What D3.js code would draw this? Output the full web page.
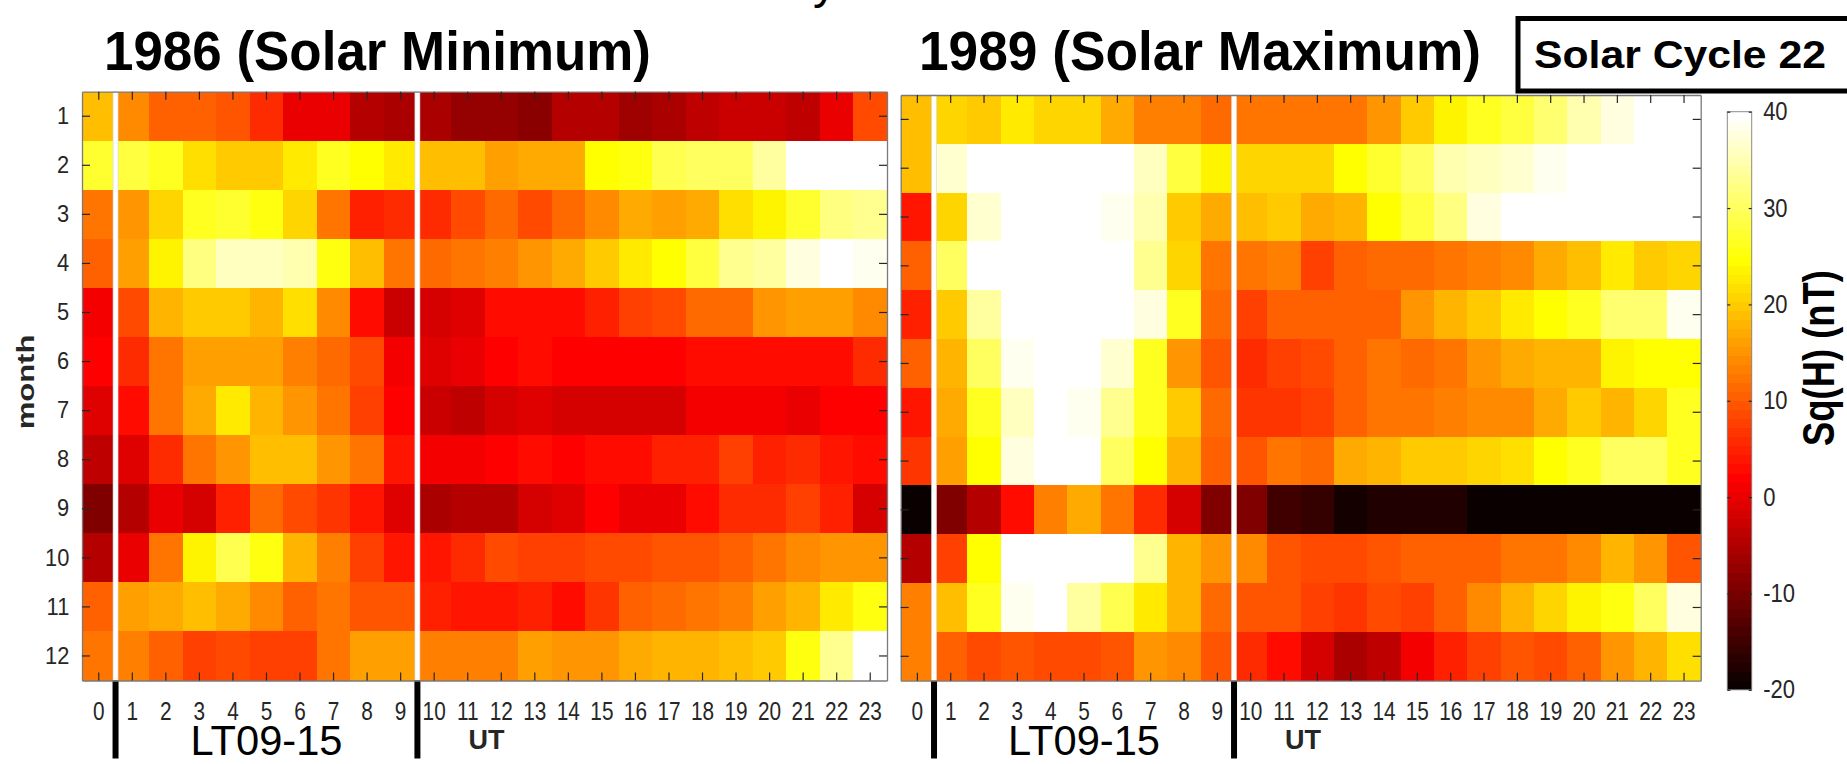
<!DOCTYPE html>
<html>
<head>
<meta charset="utf-8">
<script src="https://cdn.jsdelivr.net/npm/d3@7"></script>
<style>
  body { margin: 0; background: #fff; }
  svg { display: block; font-family: "Liberation Sans", Arial, sans-serif; }
</style>
</head>
<body>
<div id="chart"></div>
<script>
// hours (x categories) and months (y categories)
const hours = ['0', '1', '2', '3', '4', '5', '6', '7', '8', '9', '10', '11',
  '12', '13', '14', '15', '16', '17', '18', '19', '20', '21', '22', '23'];
const months = ['1', '2', '3', '4', '5', '6', '7', '8', '9', '10', '11', '12'];

// Sq(H) in nT, one row per month, one value per hour
const sq1986 = [
  [19, 15, 11, 11, 10, 6, 0.4, 0.4, -3.8, -4.8, -4.8, -6.5, -6.5, -8, -4.5, -4.5, -5.9, -5.2, -3, -2, -2, -3, 0.4, 8.8],
  [27.8, 28.8, 27.3, 22, 20, 20.5, 23, 27, 25, 23, 19.8, 19.8, 16.6, 17.3, 17.3, 25, 25.6, 29.7, 31, 30.6, 34.4, 40, 40, 40],
  [12.4, 15.9, 21.5, 27.3, 27.8, 25.6, 21.5, 12.4, 5.3, 6, 6.7, 9, 11.7, 9.5, 11.7, 14.5, 17.3, 16.3, 17.3, 22.3, 23.7, 27.8, 32.5, 33.3],
  [10.9, 17, 23.7, 32.5, 35.8, 36.3, 34.9, 25.6, 19.4, 13, 11.7, 12.4, 13.8, 15.9, 17.3, 20, 23, 25, 28.3, 33, 34.4, 37.7, 40, 39.1],
  [1.2, 9.5, 18.7, 20, 20, 18.7, 22.3, 14.5, 3.9, -2.4, -1.6, 0, 3.2, 3.2, 3.2, 5.3, 7.8, 9.5, 11.7, 11.7, 15.9, 16.6, 16.6, 14.5],
  [2.5, 6.4, 13, 16.3, 16.3, 16.3, 13.8, 11.7, 8.8, 1.6, -0.5, 0.4, 2.5, 3.2, 2.5, 2.5, 2.8, 2.5, 3.9, 3.2, 3.2, 3.2, 3.9, 6],
  [-0.5, 3.4, 12.4, 17.3, 22.7, 18, 15.5, 12.4, 8.5, 2.5, -2, -3, -1.4, -0.5, -1.1, -1.1, -1.1, -0.8, 1.2, 1.2, 1.2, 0.7, 2.5, 2.5],
  [-3, -0.5, 6.7, 12.4, 15.9, 19.1, 19.1, 15.9, 12.4, 4.6, 1.2, 1.2, 2.5, 3.2, 2.5, 3.5, 3.5, 5.3, 5.7, 8.1, 5.3, 6, 4.3, 3.5],
  [-9.2, -4.1, 0.7, -1.3, 5, 11.9, 8.8, 7.1, 4.3, -0.5, -4.8, -4.5, -4.1, -1.6, 0.1, 2.5, 0.4, 0.4, 3.5, 6.7, 6, 8.1, 5.3, -0.8],
  [-3.6, 0.9, 12.9, 23.7, 29.7, 25.6, 18.7, 13.4, 8.1, 4.6, 4.3, 6.5, 8.8, 7.8, 7.8, 9.2, 9.2, 9.9, 9.9, 10.9, 13, 14.9, 15.2, 15.9],
  [10.5, 16.3, 17.3, 19.1, 17.7, 14.9, 11.3, 12.4, 9.9, 9.9, 5, 4.3, 4.3, 5.7, 3.9, 7.1, 11.3, 11.9, 12.9, 13.8, 16.3, 18.4, 23, 26.4],
  [13, 13.8, 11.3, 8.1, 8.8, 8.1, 8.1, 13, 16.3, 16.3, 13.4, 13.4, 13.8, 16.3, 15.5, 15.2, 17.3, 18, 18.7, 19.8, 20, 25.6, 33.9, 40]
];

const sq1989 = [
  [19, 21.5, 20, 23, 21.2, 21.2, 17.3, 13.4, 13.4, 11.9, 13, 13, 12.9, 12.9, 15.9, 20, 23.7, 26.9, 28.3, 32, 35.3, 37.7, 42, 42],
  [19, 36.8, 42, 42, 42, 42, 42, 36.3, 28.8, 23.7, 21.2, 21.2, 21.5, 25, 27.8, 30.6, 35.3, 36.3, 37.2, 39.1, 42, 42, 42, 42],
  [4.6, 21.5, 36.8, 42, 42, 42, 39.1, 34.9, 20, 17.3, 19.1, 20.5, 17.3, 18, 25, 28.8, 32.5, 37.7, 42, 42, 42, 42, 42, 42],
  [11.3, 31, 42, 42, 42, 42, 42, 33.9, 21.5, 12.9, 12.9, 13.4, 8.1, 11.3, 11.7, 11.7, 12.4, 13.4, 14.9, 17.3, 19.1, 23, 20, 21.5],
  [5, 20, 34.4, 42, 42, 42, 42, 37.7, 26.9, 11.9, 8.5, 10.9, 10.5, 10.5, 10.9, 15.2, 18.7, 20.5, 23, 25, 26.9, 31.6, 31.6, 38.6],
  [10.5, 18.4, 31, 39.1, 42, 42, 37.2, 26.9, 15.9, 10.2, 6.4, 8.1, 9.2, 10.5, 12.9, 11.7, 13, 15.2, 17.3, 18.7, 18.7, 23.7, 25, 25],
  [4.3, 17.7, 26.9, 35.8, 42, 39.1, 33.9, 26.9, 20, 11.9, 7.4, 7.4, 8.1, 10.9, 12.9, 13, 14.2, 14.9, 14.9, 17.3, 20, 18.7, 20.9, 26.9],
  [7.4, 17, 25, 38.1, 42, 42, 31, 25, 18.4, 11.3, 10.2, 12.9, 11.9, 17.3, 18, 20, 20, 20.9, 21.9, 25, 26.9, 30.2, 30.2, 27.3],
  [-19.4, -9.2, -3.6, 3.5, 13.4, 17.3, 13, 6, -1.6, -9.2, -9.2, -14, -15.5, -17.9, -17.2, -17.2, -17.5, -18.6, -19.1, -19.1, -19.1, -19.1, -19.1, -19.1],
  [-3.6, 8.5, 25, 42, 42, 42, 42, 33, 18.4, 15.5, 14.9, 10.2, 9.5, 9.5, 9.9, 10.9, 10.9, 10.9, 12.9, 12.9, 14.9, 18, 15.2, 9.9],
  [13.4, 19.1, 26.9, 39.1, 42, 34.4, 29.7, 23, 18.4, 11.9, 10.2, 10.2, 8.5, 7.4, 8.8, 8.1, 10.9, 14.9, 18.4, 21.5, 23.7, 26.4, 31, 38.1],
  [13.4, 10.5, 9.2, 9.9, 8.8, 8.8, 9.9, 15.9, 14.9, 9.9, 6.4, 3.5, -1, -5.2, -3.4, 1.2, 5.3, 8.1, 10.2, 9.2, 11.3, 15.2, 18.7, 22.3]
];

const cRange = [-20, 40];
const cbTicks = [-20, -10, 0, 10, 20, 30, 40];

const width = 1847, height = 764;
const axisCol = '#262626';

const svg = d3.select('#chart')
  .append('svg')
  .attr('width', width)
  .attr('height', height);

// matlab hot(64)
const hotIndex = i => {
  const n = i + 1;
  const r = Math.min(n / 24, 1),
    g = Math.max(0, Math.min((n - 24) / 24, 1)),
    b = Math.max(0, Math.min((n - 48) / 16, 1));
  return d3.rgb(r * 255, g * 255, b * 255).formatHex();
};
const hot = v => {
  const i = Math.round((v - cRange[0]) / (cRange[1] - cRange[0]) * 64) - 1;
  return hotIndex(Math.max(0, Math.min(63, i)));
};

const styleAxis = (g, size) => {
  g.attr('font-family', '"Liberation Sans", Arial, sans-serif')
    .attr('font-size', size);
  g.select('.domain').attr('stroke', '#7a7a7a').attr('stroke-width', 1.3);
  g.selectAll('.tick line').attr('stroke', axisCol).attr('stroke-width', 1.2);
  g.selectAll('.tick text').attr('fill', axisCol);
};

const panels = [
  { title: '1986 (Solar Minimum)', values: sq1986, x0: 82, x1: 887, y0: 91.7, y1: 680.5, titleX: 104, titleW: 547 },
  { title: '1989 (Solar Maximum)', values: sq1989, x0: 900.7, x1: 1700.7, y0: 95, y1: 680.7, titleX: 919, titleW: 562 }
];

panels.forEach((p, pi) => {
  const x = d3.scaleBand().domain(hours).range([p.x0, p.x1]);
  const y = d3.scaleBand().domain(months).range([p.y0, p.y1]);

  const cells = [];
  p.values.forEach((row, mi) => row.forEach((v, hi) => cells.push({ m: months[mi], h: hours[hi], v })));

  svg.append('g')
    .attr('shape-rendering', 'crispEdges')
    .selectAll('rect')
    .data(cells)
    .enter().append('rect')
    .attr('x', d => x(d.h))
    .attr('y', d => y(d.m))
    .attr('width', x.bandwidth() + 0.6)
    .attr('height', y.bandwidth() + 0.6)
    .attr('fill', d => hot(d.v));

  // LT09-15 window markers
  const b1 = x(hours[1]), b2 = x(hours[10]);
  [b1, b2].forEach(bx => {
    svg.append('rect')
      .attr('x', bx - 2.5).attr('y', p.y0)
      .attr('width', 5).attr('height', p.y1 - p.y0)
      .attr('fill', '#fff').attr('stroke', '#d4d4d4').attr('stroke-width', 0.6);
    svg.append('line')
      .attr('x1', bx).attr('x2', bx)
      .attr('y1', p.y1).attr('y2', 758.5)
      .attr('stroke', '#000').attr('stroke-width', 6);
  });

  // axes with inward ticks
  svg.append('g')
    .attr('transform', `translate(0,${p.y0})`)
    .call(d3.axisTop(x).tickSizeInner(-8).tickSizeOuter(0).tickFormat(''))
    .call(g => styleAxis(g, 22));
  svg.append('g')
    .attr('transform', `translate(${p.x1},0)`)
    .call(d3.axisRight(y).tickSizeInner(-8).tickSizeOuter(0).tickFormat(''))
    .call(g => styleAxis(g, 22));
  svg.append('g')
    .attr('transform', `translate(0,${p.y1})`)
    .call(d3.axisBottom(x).tickSizeInner(-8).tickSizeOuter(0).tickPadding(21))
    .call(g => styleAxis(g, 26))
    .call(g => g.selectAll('.tick text').attr('transform', 'scale(0.8,1)'));
  const yAxis = d3.axisLeft(y).tickSizeInner(-8).tickSizeOuter(0).tickPadding(14);
  if (pi > 0) yAxis.tickFormat('');
  svg.append('g')
    .attr('transform', `translate(${p.x0},0)`)
    .call(yAxis)
    .call(g => styleAxis(g, 24))
    .call(g => g.selectAll('.tick text').attr('transform', 'scale(0.91,1)'));

  svg.append('text')
    .attr('x', p.titleX).attr('y', 70)
    .attr('font-size', 55).attr('font-weight', 'bold')
    .attr('textLength', p.titleW).attr('lengthAdjust', 'spacingAndGlyphs')
    .text(p.title);

  svg.append('text')
    .attr('x', (b1 + b2) / 2).attr('y', 755)
    .attr('text-anchor', 'middle')
    .attr('font-size', 43)
    .attr('textLength', 152).attr('lengthAdjust', 'spacingAndGlyphs')
    .text('LT09-15');

  svg.append('text')
    .attr('x', b2 + 51).attr('y', 749)
    .attr('font-size', 27).attr('font-weight', 'bold')
    .attr('fill', axisCol)
    .text('UT');
});

// y label
svg.append('text')
  .attr('transform', 'translate(34,382) scale(0.78,1) rotate(-90)')
  .attr('text-anchor', 'middle')
  .attr('font-size', 31).attr('font-weight', 'bold')
  .attr('fill', axisCol)
  .text('month');

// colour bar
const cbX0 = 1727.3, cbX1 = 1751.7;
const cb = d3.scaleLinear().domain(cRange).range([689.8, 111.7]);
const bandStep = (cRange[1] - cRange[0]) / 64;
svg.append('g')
  .attr('shape-rendering', 'crispEdges')
  .selectAll('rect')
  .data(d3.range(64))
  .enter().append('rect')
  .attr('x', cbX0)
  .attr('y', k => cb(cRange[0] + (k + 1) * bandStep))
  .attr('width', cbX1 - cbX0)
  .attr('height', k => cb(cRange[0] + k * bandStep) - cb(cRange[0] + (k + 1) * bandStep) + 0.5)
  .attr('fill', k => hotIndex(k));
svg.append('rect')
  .attr('x', cbX0).attr('y', cb(cRange[1]))
  .attr('width', cbX1 - cbX0).attr('height', cb(cRange[0]) - cb(cRange[1]))
  .attr('fill', 'none').attr('stroke', '#8a8a8a').attr('stroke-width', 1);
svg.append('g')
  .attr('transform', `translate(${cbX1},0)`)
  .call(d3.axisRight(cb).tickValues(cbTicks).tickSizeInner(-3).tickSizeOuter(0).tickPadding(13)
    .tickFormat(d => String(d)))
  .call(g => styleAxis(g, 25))
  .call(g => g.select('.domain').remove())
  .call(g => g.selectAll('.tick text').attr('transform', 'scale(0.88,1)'));
svg.append('g')
  .attr('transform', `translate(${cbX0},0)`)
  .call(d3.axisLeft(cb).tickValues(cbTicks).tickSizeInner(-3).tickSizeOuter(0).tickFormat(''))
  .call(g => styleAxis(g, 25))
  .call(g => g.select('.domain').remove());

svg.append('text')
  .attr('transform', 'translate(1834,358) rotate(-90)')
  .attr('text-anchor', 'middle')
  .attr('font-size', 45).attr('font-weight', 'bold')
  .attr('textLength', 176).attr('lengthAdjust', 'spacingAndGlyphs')
  .text('Sq(H) (nT)');

// "Solar Cycle 22" box
svg.append('rect')
  .attr('x', 1518).attr('y', 18.5)
  .attr('width', 400).attr('height', 72.5)
  .attr('fill', '#fff').attr('stroke', '#000').attr('stroke-width', 5);
svg.append('text')
  .attr('x', 1534).attr('y', 68)
  .attr('font-size', 39).attr('font-weight', 'bold')
  .attr('textLength', 292).attr('lengthAdjust', 'spacingAndGlyphs')
  .text('Solar Cycle 22');

// cut-off tail of the figure's top title
svg.append('text')
  .attr('x', 813).attr('y', -2)
  .attr('font-size', 48)
  .text('y');
</script>
</body>
</html>
